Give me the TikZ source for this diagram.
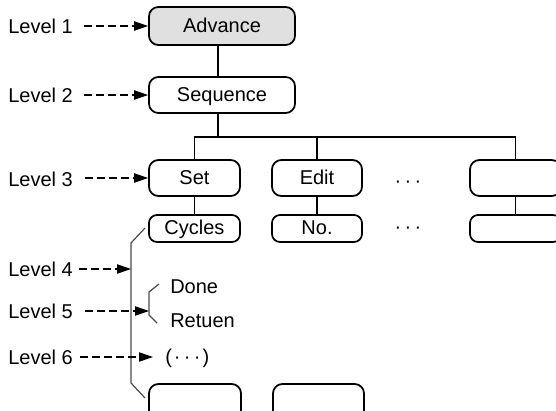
\documentclass[tikz,border=0pt]{standalone}
\usepackage{fontspec}
\setmainfont{Liberation Sans}
\usetikzlibrary{arrows.meta}
\newcommand{\tdots}{·\hspace{2.5pt}·\hspace{2.5pt}·}
\begin{document}
\begin{tikzpicture}[x=0.75pt,y=-0.75pt,
  every node/.style={font=\fontsize{15pt}{18pt}\selectfont, inner sep=0pt, text height=10.7pt, text depth=3pt},
  box/.style={draw, line width=1.3pt, rounded corners=7pt, minimum width=68.25pt, minimum height=27pt, text depth=1.2pt},
  smallbox/.style={box, minimum height=20.25pt, rounded corners=6pt},
  link/.style={line width=1.3pt},
  dasharrow/.style={line width=0.8pt, dash pattern=on 6pt off 3pt, -{Triangle[length=10.5pt,width=7pt]}},
  bracket/.style={line width=0.9pt, draw=black!70},
  lvl/.style={anchor=base west}]
\useasboundingbox (0,0) rectangle (556,410);
\clip (0,0) rectangle (556,410);
\fill[white] (0,0) rectangle (556,410);

% boxes
\node[box, fill=black!12, minimum width=109.5pt, minimum height=28.5pt] (adv) at (222,26) {Advance};
\node[box, minimum width=109.5pt] (seq) at (222,95) {Sequence};
\node[box] (set) at (194.5,178) {Set};
\node[box, minimum width=67.5pt] (edit) at (317,178) {Edit};
\node[box] (rb) at (515.5,178) {};
\node[smallbox] (cyc) at (194.5,228.5) {Cycles};
\node[smallbox, minimum width=67.5pt] (no) at (317,228.5) {No.};
\node[smallbox] (rb2) at (515.5,228.5) {};
\node[box, minimum width=69pt] (b1) at (195,402) {};
\node[box] (b2) at (318.5,402) {};

\node[anchor=base] (dots3) at (408,187) {\tdots};
\node[anchor=base] (dots4) at (408,233) {\tdots};

% connectors
\coordinate (j) at (218,137);
\draw[link] (j |- adv.south) -- (j |- seq.north);
\draw[link] (j |- seq.south) -- (j);
\draw[link] (set.north) |- (j) -| (rb.north);
\draw[link] (edit.north) -- (edit.north |- j);
\draw[link] (set) -- (cyc);
\draw[link] (edit) -- (no);
\draw[link] (rb) -- (rb2);

% brackets
\draw[bracket] (145,228) -- (131,243) -- (131,383) -- (145,398);
\draw[bracket] (159,284) -- (149,292) -- (149,315) -- (157,323);

% level 5/6 texts
\node[lvl] (done) at (170,293) {Done};
\node[lvl] (ret) at (170,327) {Retuen};
\node[lvl] (dots6) at (165,363) {(\hspace{1.5pt}\tdots\hspace{1.5pt})};

% level labels
\node[lvl] (l1) at (8,34) {Level 1};
\node[lvl] (l2) at (8,103) {Level 2};
\node[lvl] (l3) at (8,186) {Level 3};
\node[lvl] (l4) at (8,276) {Level 4};
\node[lvl] (l5) at (8,318) {Level 5};
\node[lvl] (l6) at (8,364) {Level 6};

\coordinate (s1) at (84,26);
\coordinate (s2) at (84,95);
\coordinate (s3) at (85,178);
\coordinate (s4) at (79,269);
\coordinate (t4) at (131,269);
\coordinate (s5) at (85,311);
\coordinate (t5) at (149,311);
\coordinate (s6) at (80,357);
\coordinate (t6) at (153,357);

\draw[dasharrow] (s1) -- (adv.west);
\draw[dasharrow] (s2) -- (seq.west);
\draw[dasharrow] (s3) -- (set.west);
\draw[dasharrow] (s4) -- (t4);
\draw[dasharrow] (s5) -- (t5);
\draw[dasharrow] (s6) -- (t6);
\end{tikzpicture}
\end{document}
